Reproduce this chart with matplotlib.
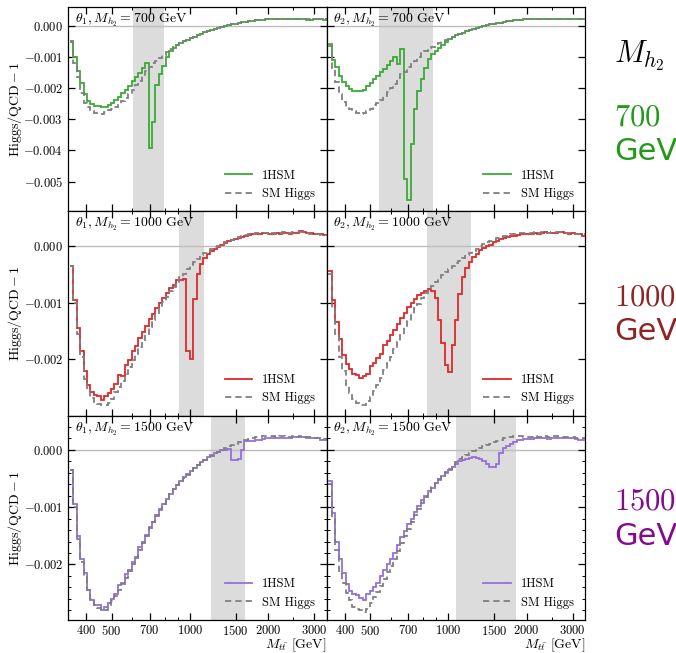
import numpy as np
import matplotlib
matplotlib.use("Agg")
import matplotlib.pyplot as plt
from matplotlib.ticker import FixedLocator, FuncFormatter, MultipleLocator, NullFormatter
from matplotlib.lines import Line2D

plt.rcParams.update({
    "font.family": "cmr10",
    "mathtext.fontset": "cm",
    "axes.linewidth": 0.9,
})

# ---------------- data (values in units of 1e-3) ----------------
M_LOW, M_HIGH, N_BINS = 346.0, 3350.0, 75

a_1hsm = [-0.5, -1.0, -1.45, -1.85, -2.2, -2.4, -2.5, -2.57, -2.59, -2.6, -2.62, -2.55, -2.48, -2.38, -2.28,
          -2.17, -2.06, -1.93, -1.78, -1.64, -1.52, -1.35, -1.19, -3.93, -3.09, -1.9, -1.55, -1.28, -1.0, -0.82,
          -0.7, -0.62, -0.56, -0.5, -0.45, -0.4, -0.35, -0.3, -0.25, -0.21, -0.18, -0.14, -0.11, -0.08, -0.05,
          -0.02, 0.01, 0.04, 0.07, 0.09, 0.11, 0.13, 0.14, 0.16, 0.17, 0.18, 0.19, 0.2, 0.2, 0.21,
          0.21, 0.22, 0.22, 0.23, 0.22, 0.23, 0.23, 0.22, 0.2, 0.17, 0.17, 0.2, 0.2, 0.2, 0.19]
a_sm = [-0.52, -1.2, -1.65, -2.15, -2.48, -2.62, -2.73, -2.8, -2.82, -2.82, -2.77, -2.72, -2.68, -2.6, -2.52,
        -2.42, -2.33, -2.2, -2.07, -1.91, -1.76, -1.62, -1.45, -1.32, -1.2, -1.12, -1.03, -0.95, -0.85, -0.76,
        -0.69, -0.62, -0.56, -0.5, -0.45, -0.4, -0.35, -0.3, -0.25, -0.21, -0.18, -0.14, -0.11, -0.08, -0.05,
        -0.02, 0.01, 0.04, 0.07, 0.09, 0.11, 0.13, 0.14, 0.16, 0.17, 0.18, 0.19, 0.2, 0.2, 0.21,
        0.21, 0.22, 0.22, 0.23, 0.22, 0.23, 0.23, 0.22, 0.23, 0.22, 0.21, 0.22, 0.2, 0.21, 0.2]

b_1hsm = [-0.6, -1.1, -1.33, -1.6, -1.8, -1.93, -2.02, -2.08, -2.09, -2.09, -2.05, -1.93, -1.83, -1.72, -1.61,
          -1.5, -1.38, -1.26, -1.13, -1.02, -1.24, -0.76, -4.91, -5.58, -3.79, -2.66, -2.1, -1.7, -1.35, -1.08,
          -0.92, -0.8, -0.72, -0.62, -0.52, -0.43, -0.36, -0.31, -0.26, -0.22, -0.18, -0.14, -0.11, -0.07, -0.04,
          -0.01, 0.02, 0.04, 0.06, 0.08, 0.1, 0.12, 0.14, 0.15, 0.17, 0.18, 0.19, 0.2, 0.21, 0.21,
          0.22, 0.22, 0.22, 0.23, 0.22, 0.22, 0.21, 0.22, 0.22, 0.2, 0.22, 0.21, 0.22, 0.21, 0.2]
b_sm = [-0.65, -1.35, -1.8, -2.2, -2.45, -2.6, -2.68, -2.74, -2.8, -2.82, -2.8, -2.74, -2.66, -2.56, -2.47,
        -2.37, -2.25, -2.12, -2.0, -1.87, -1.68, -1.55, -1.47, -1.33, -1.2, -1.12, -1.0, -0.88, -0.8, -0.73,
        -0.68, -0.6, -0.55, -0.49, -0.45, -0.4, -0.36, -0.31, -0.26, -0.22, -0.18, -0.14, -0.11, -0.07, -0.04,
        -0.01, 0.02, 0.04, 0.06, 0.08, 0.1, 0.13, 0.14, 0.16, 0.17, 0.18, 0.19, 0.2, 0.21, 0.22,
        0.22, 0.23, 0.22, 0.23, 0.23, 0.23, 0.23, 0.22, 0.23, 0.22, 0.22, 0.21, 0.22, 0.21, 0.2]

c_1hsm = [-0.35, -0.95, -1.45, -1.85, -2.2, -2.45, -2.57, -2.62, -2.65, -2.72, -2.64, -2.6, -2.53, -2.44, -2.27,
          -2.3, -2.1, -2.02, -1.85, -1.77, -1.63, -1.51, -1.42, -1.29, -1.2, -1.1, -1.01, -0.92, -0.84, -0.74,
          -0.69, -0.61, -0.6, -0.59, -1.86, -1.99, -0.94, -0.5, -0.32, -0.22, -0.15, -0.1, -0.06, -0.02, 0.02,
          0.05, 0.08, 0.1, 0.12, 0.14, 0.16, 0.17, 0.19, 0.2, 0.21, 0.21, 0.22, 0.22, 0.21, 0.21,
          0.22, 0.21, 0.22, 0.22, 0.21, 0.22, 0.23, 0.26, 0.25, 0.22, 0.22, 0.21, 0.2, 0.2, 0.19]
c_sm = [-0.35, -1.0, -1.55, -1.95, -2.35, -2.55, -2.68, -2.75, -2.78, -2.81, -2.81, -2.76, -2.69, -2.58, -2.48,
        -2.38, -2.26, -2.14, -2.02, -1.9, -1.78, -1.66, -1.55, -1.43, -1.3, -1.19, -1.08, -0.99, -0.9, -0.8,
        -0.72, -0.63, -0.55, -0.49, -0.41, -0.34, -0.29, -0.23, -0.17, -0.12, -0.09, -0.05, -0.03, 0.0, 0.03,
        0.06, 0.08, 0.11, 0.13, 0.15, 0.17, 0.19, 0.2, 0.21, 0.22, 0.22, 0.23, 0.22, 0.21, 0.22,
        0.21, 0.23, 0.24, 0.22, 0.23, 0.24, 0.25, 0.24, 0.23, 0.22, 0.21, 0.21, 0.2, 0.19, 0.19]

d_1hsm = [-0.45, -0.95, -1.35, -1.65, -1.92, -2.08, -2.17, -2.26, -2.28, -2.32, -2.3, -2.26, -2.12, -2.07, -1.98,
          -1.9, -1.75, -1.67, -1.58, -1.48, -1.38, -1.28, -1.18, -1.08, -1.0, -0.93, -0.87, -0.84, -0.8, -0.76,
          -0.8, -0.92, -1.3, -1.72, -2.1, -2.22, -1.75, -1.3, -0.85, -0.55, -0.4, -0.28, -0.2, -0.14, -0.08,
          -0.04, 0.0, 0.02, 0.06, 0.09, 0.12, 0.14, 0.16, 0.17, 0.18, 0.19, 0.2, 0.2, 0.21, 0.21,
          0.22, 0.21, 0.22, 0.24, 0.22, 0.22, 0.23, 0.25, 0.24, 0.22, 0.21, 0.22, 0.21, 0.2, 0.18]
d_sm = [-0.5, -1.1, -1.55, -1.95, -2.2, -2.45, -2.6, -2.7, -2.76, -2.8, -2.81, -2.74, -2.66, -2.55, -2.45,
        -2.33, -2.18, -2.06, -1.95, -1.82, -1.7, -1.57, -1.42, -1.32, -1.2, -1.1, -1.02, -0.92, -0.84, -0.76,
        -0.7, -0.63, -0.57, -0.51, -0.46, -0.41, -0.36, -0.31, -0.26, -0.21, -0.17, -0.13, -0.09, -0.05, -0.01,
        0.03, 0.06, 0.09, 0.11, 0.13, 0.15, 0.17, 0.18, 0.2, 0.21, 0.21, 0.22, 0.22, 0.23, 0.23,
        0.24, 0.23, 0.24, 0.24, 0.23, 0.24, 0.25, 0.25, 0.24, 0.23, 0.22, 0.22, 0.21, 0.21, 0.2]

e_1hsm = [-0.35, -0.95, -1.5, -1.9, -2.15, -2.45, -2.62, -2.7, -2.71, -2.8, -2.74, -2.68, -2.61, -2.52, -2.36,
          -2.33, -2.16, -2.1, -1.95, -1.87, -1.69, -1.6, -1.49, -1.34, -1.25, -1.15, -1.05, -0.95, -0.85, -0.77,
          -0.69, -0.61, -0.54, -0.47, -0.42, -0.36, -0.31, -0.26, -0.21, -0.17, -0.13, -0.09, -0.06, -0.03, -0.01,
          0.0, 0.02, -0.17, -0.17, -0.15, 0.0, 0.15, 0.15, 0.16, 0.17, 0.18, 0.19, 0.2, 0.2, 0.2,
          0.2, 0.2, 0.21, 0.2, 0.21, 0.22, 0.22, 0.22, 0.22, 0.21, 0.21, 0.2, 0.2, 0.18, 0.17]
e_sm = [-0.35, -1.0, -1.55, -1.95, -2.22, -2.45, -2.6, -2.71, -2.76, -2.79, -2.8, -2.73, -2.64, -2.55, -2.44,
        -2.34, -2.24, -2.12, -2.0, -1.88, -1.74, -1.62, -1.5, -1.37, -1.25, -1.14, -1.03, -0.94, -0.85, -0.77,
        -0.69, -0.62, -0.55, -0.49, -0.43, -0.37, -0.32, -0.27, -0.22, -0.17, -0.13, -0.1, -0.06, -0.03, 0.0,
        0.03, 0.06, 0.09, 0.11, 0.13, 0.15, 0.17, 0.19, 0.21, 0.22, 0.23, 0.24, 0.24, 0.24, 0.24,
        0.23, 0.24, 0.24, 0.23, 0.23, 0.24, 0.23, 0.24, 0.23, 0.22, 0.22, 0.21, 0.2, 0.2, 0.19]

f_1hsm = [-0.55, -1.1, -1.6, -1.9, -2.15, -2.35, -2.47, -2.52, -2.54, -2.59, -2.62, -2.52, -2.46, -2.39, -2.32,
          -2.2, -2.1, -2.0, -1.9, -1.8, -1.66, -1.52, -1.42, -1.3, -1.2, -1.08, -0.98, -0.88, -0.8, -0.72,
          -0.66, -0.58, -0.52, -0.46, -0.41, -0.35, -0.29, -0.24, -0.2, -0.18, -0.16, -0.14, -0.13, -0.14, -0.16,
          -0.2, -0.24, -0.3, -0.3, -0.25, -0.05, 0.03, 0.07, 0.11, 0.14, 0.17, 0.18, 0.19, 0.19, 0.19,
          0.2, 0.21, 0.21, 0.2, 0.19, 0.2, 0.2, 0.21, 0.21, 0.2, 0.21, 0.2, 0.19, 0.17, 0.17]
f_sm = [-0.6, -1.2, -1.75, -2.12, -2.33, -2.5, -2.62, -2.74, -2.78, -2.8, -2.83, -2.77, -2.68, -2.56, -2.48,
        -2.38, -2.26, -2.14, -2.02, -1.9, -1.76, -1.63, -1.5, -1.38, -1.26, -1.14, -1.03, -0.92, -0.82, -0.73,
        -0.65, -0.58, -0.51, -0.45, -0.39, -0.33, -0.27, -0.21, -0.16, -0.12, -0.08, -0.05, -0.02, 0.01, 0.04,
        0.06, 0.08, 0.11, 0.13, 0.15, 0.17, 0.2, 0.22, 0.23, 0.24, 0.24, 0.24, 0.23, 0.23, 0.23,
        0.24, 0.23, 0.24, 0.24, 0.23, 0.23, 0.24, 0.23, 0.23, 0.22, 0.23, 0.22, 0.21, 0.2, 0.2]

panel_titles = [[r"$\theta_1, M_{h_2} = 700$ GeV", r"$\theta_2, M_{h_2} = 700$ GeV"],
                [r"$\theta_1, M_{h_2} = 1000$ GeV", r"$\theta_2, M_{h_2} = 1000$ GeV"],
                [r"$\theta_1, M_{h_2} = 1500$ GeV", r"$\theta_2, M_{h_2} = 1500$ GeV"]]
hsm_values = [[a_1hsm, b_1hsm], [c_1hsm, d_1hsm], [e_1hsm, f_1hsm]]
sm_values = [[a_sm, b_sm], [c_sm, d_sm], [e_sm, f_sm]]
bands = [[(606, 796), (539, 874)], [(912, 1129), (829, 1225)], [(1202, 1626), (1066, 1817)]]
row_ylims = [(-5.95, 0.61), (-2.99, 0.61), (-2.97, 0.60)]
mass_labels = ["700", "1000", "1500"]

line_colors = ["#3aab35", "#e0282a", "#9370db"]
text_colors = ["#22991a", "#8e2424", "#840a8e"]
sm_color = "#7f7f7f"

x_major = [400, 500, 700, 1000, 1500, 2000, 3000]
x_minor = [600, 800, 900, 2500]

# ---------------- figure ----------------
edges = np.geomspace(M_LOW, M_HIGH, N_BINS + 1)
W, H = 676, 653
fig, axes = plt.subplots(3, 2, figsize=(W / 100, H / 100), dpi=100, sharex=True)
fig.subplots_adjust(left=68 / W, right=585 / W, top=1 - 6.7 / H, bottom=1 - 620 / H,
                    hspace=0, wspace=0)

yfmt = FuncFormatter(lambda v, p: "$0.000$" if abs(v) < 1e-12 else f"${v:.3f}$")
xfmt = FuncFormatter(lambda v, p: f"${int(round(v))}$")

for r in range(3):
    for c in range(2):
        ax = axes[r, c]
        ax.set_xscale("log")
        ax.set_xlim(340, 3350)
        ax.set_ylim(row_ylims[r][0] * 1e-3, row_ylims[r][1] * 1e-3)
        lo, hi = bands[r][c]
        ax.axvspan(lo, hi, color="#dcdcdc", lw=0, zorder=0)
        ax.axhline(0, color="#bdbdbd", lw=1.0, zorder=1)
        ax.stairs(np.array(hsm_values[r][c]) * 1e-3, edges, baseline=None,
                  color=line_colors[r], lw=1.3, zorder=3)
        ax.stairs(np.array(sm_values[r][c]) * 1e-3, edges, baseline=None,
                  color=sm_color, lw=1.3, ls=(0, (3.5, 2.2)), zorder=4)
        ax.text(0.027, 0.921, panel_titles[r][c], transform=ax.transAxes,
                fontsize=10, va="baseline", ha="left", zorder=5)
        handles = [Line2D([], [], color=line_colors[r], lw=1.3),
                   Line2D([], [], color=sm_color, lw=1.3, ls=(0, (3.5, 2.2)))]
        ax.legend(handles, ["1HSM", "SM Higgs"], loc="lower right", frameon=False,
                  fontsize=9, handlelength=2.2, labelspacing=0.5)

        ax.xaxis.set_major_locator(FixedLocator(x_major))
        ax.xaxis.set_minor_locator(FixedLocator(x_minor))
        ax.xaxis.set_major_formatter(xfmt)
        ax.xaxis.set_minor_formatter(NullFormatter())
        ax.yaxis.set_major_locator(MultipleLocator(0.001))
        if r == 2:
            ax.yaxis.set_minor_locator(MultipleLocator(0.0002))
        ax.yaxis.set_major_formatter(yfmt)
        ax.tick_params(which="both", direction="in", top=True, right=True, labelsize=9)
        ax.tick_params(which="major", length=5, width=0.9)
        ax.tick_params(which="minor", length=2.5, width=0.7)
        ax.tick_params(axis="x", pad=2.6)
        if c == 1:
            ax.tick_params(labelleft=False)
        else:
            ax.set_ylabel(r"$\mathrm{Higgs/QCD} - 1$", fontsize=10)
            ax.yaxis.set_label_coords(-0.172, 0.5)
        if r == 2:
            ax.set_xlabel(r"$M_{t\bar{t}}$ [GeV]", fontsize=10, loc="right")
            ax.xaxis.set_label_coords(1.0, -0.081)

# right-hand labels
fig.text(614 / W, 1 - 62 / H, r"$M_{h_2}$", fontsize=22, ha="left", va="baseline")
num_baselines = [125, 305, 510]
gev_baselines = [160, 340, 545]
for i in range(3):
    fig.text(614 / W, 1 - num_baselines[i] / H, "$" + mass_labels[i] + "$", fontsize=22,
             color=text_colors[i], ha="left", va="baseline")
    fig.text(614 / W, 1 - gev_baselines[i] / H, "GeV", fontsize=22, family="DejaVu Sans",
             color=text_colors[i], ha="left", va="baseline")

fig.savefig("out.png", dpi=100)
